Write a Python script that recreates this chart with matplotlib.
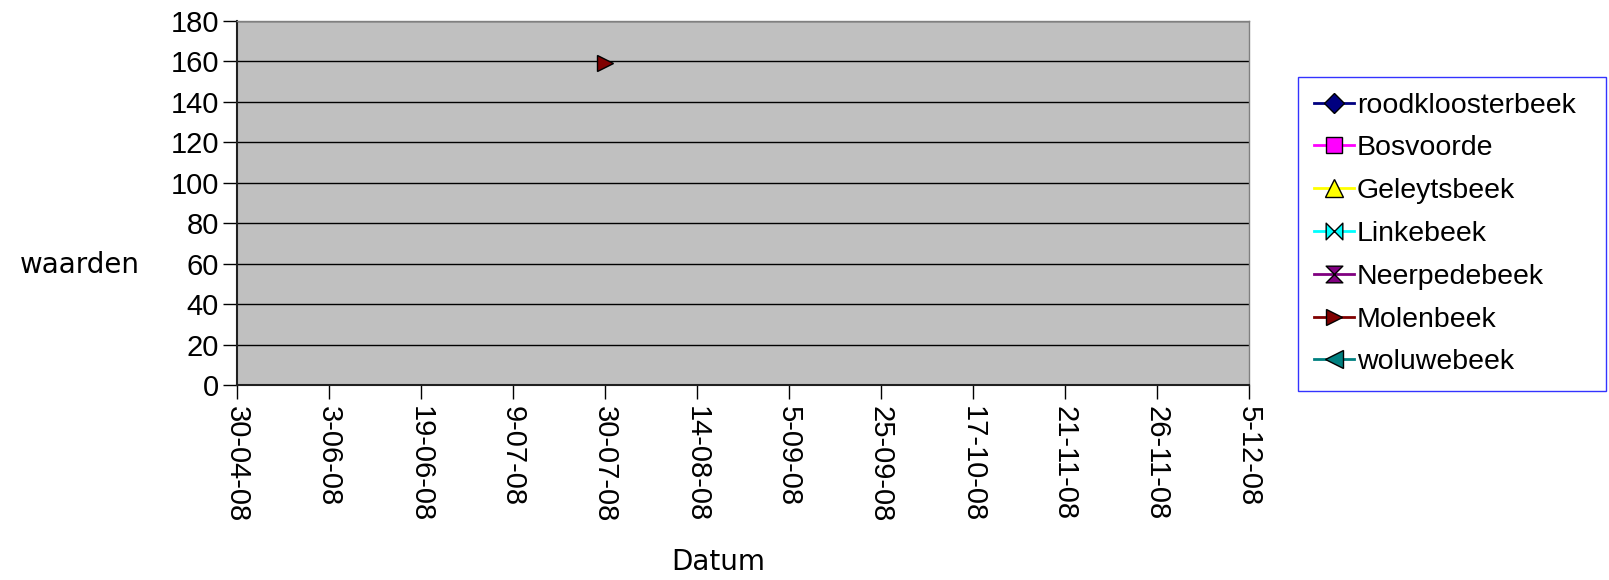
import numpy as np
import matplotlib
matplotlib.use("Agg")
import matplotlib.pyplot as plt
from matplotlib.path import Path

dates = ["30-04-08", "3-06-08", "19-06-08", "9-07-08", "30-07-08", "14-08-08",
         "5-09-08", "25-09-08", "17-10-08", "21-11-08", "26-11-08", "5-12-08"]
nan = np.nan
roodkloosterbeek = [nan] * 12
bosvoorde = [nan] * 12
geleytsbeek = [nan] * 12
linkebeek = [nan] * 12
neerpedebeek = [nan] * 12
molenbeek = [nan, nan, nan, nan, 159, nan, nan, nan, nan, nan, nan, nan]
woluwebeek = [nan] * 12

# bow-tie markers (horizontal and vertical hourglass)
bowtie_h = Path([(-1, -1), (0, 0), (-1, 1), (-1, -1), (1, -1), (0, 0), (1, 1), (1, -1)],
                [Path.MOVETO, Path.LINETO, Path.LINETO, Path.CLOSEPOLY,
                 Path.MOVETO, Path.LINETO, Path.LINETO, Path.CLOSEPOLY])
bowtie_v = Path([(-1, 1), (0, 0), (1, 1), (-1, 1), (-1, -1), (0, 0), (1, -1), (-1, -1)],
                [Path.MOVETO, Path.LINETO, Path.LINETO, Path.CLOSEPOLY,
                 Path.MOVETO, Path.LINETO, Path.LINETO, Path.CLOSEPOLY])

series = [
    ("roodkloosterbeek", roodkloosterbeek, "#000080", "D", 10),
    ("Bosvoorde", bosvoorde, "#FF00FF", "s", 12),
    ("Geleytsbeek", geleytsbeek, "#FFFF00", "^", 13),
    ("Linkebeek", linkebeek, "#00FFFF", bowtie_h, 12),
    ("Neerpedebeek", neerpedebeek, "#800080", bowtie_v, 12),
    ("Molenbeek", molenbeek, "#800000", ">", 12),
    ("woluwebeek", woluwebeek, "#008080", "<", 13),
]

plt.rcParams["font.family"] = ["Liberation Sans", "DejaVu Sans"]

fig = plt.figure(figsize=(16.09, 5.80), dpi=100)
ax = fig.add_axes([237 / 1609, 1 - 385 / 580, (1249 - 237) / 1609, (385 - 21) / 580])
ax.set_facecolor("#C0C0C0")

x = np.arange(len(dates))
for name, vals, col, mk, ms in series:
    ax.plot(x, vals, color=col, lw=2, marker=mk, markersize=ms,
            markerfacecolor=col, markeredgecolor="black", markeredgewidth=1,
            label=name)

ax.set_xlim(0, len(dates) - 1)
ax.set_ylim(0, 180)
ax.set_yticks(np.arange(0, 181, 20))
ax.set_xticks(x)
ax.set_xticklabels(dates, rotation=270, fontsize=21)
ax.tick_params(axis="y", labelsize=21, length=10, width=1, direction="out", pad=3)
ax.tick_params(axis="x", length=10, width=1, direction="out", pad=5)
ax.yaxis.grid(True, color="black", lw=1)
ax.set_axisbelow(True)
for side in ["top", "right"]:
    ax.spines[side].set_color("#808080")
    ax.spines[side].set_linewidth(1)
for side in ["left", "bottom"]:
    ax.spines[side].set_color("#202020")
    ax.spines[side].set_linewidth(1.5)

fig.text(80 / 1609, 1 - 265 / 580, "waarden", fontsize=20, family=["DejaVu Sans"],
         ha="center", va="center")
fig.text(718 / 1609, 1 - 562 / 580, "Datum", fontsize=20, family=["DejaVu Sans"],
         ha="center", va="center")

leg = fig.legend(loc="upper left",
                 bbox_to_anchor=(1298 / 1609, 1 - 77 / 580, (1606 - 1298) / 1609, 0),
                 mode="expand", fontsize=20.5, frameon=True, fancybox=False,
                 handlelength=1.4, handletextpad=0.12, labelspacing=0.59,
                 borderpad=0.55, borderaxespad=0)
leg.get_frame().set_edgecolor("#0000FF")
leg.get_frame().set_linewidth(1)

fig.savefig("out.png", dpi=100, facecolor="white")
